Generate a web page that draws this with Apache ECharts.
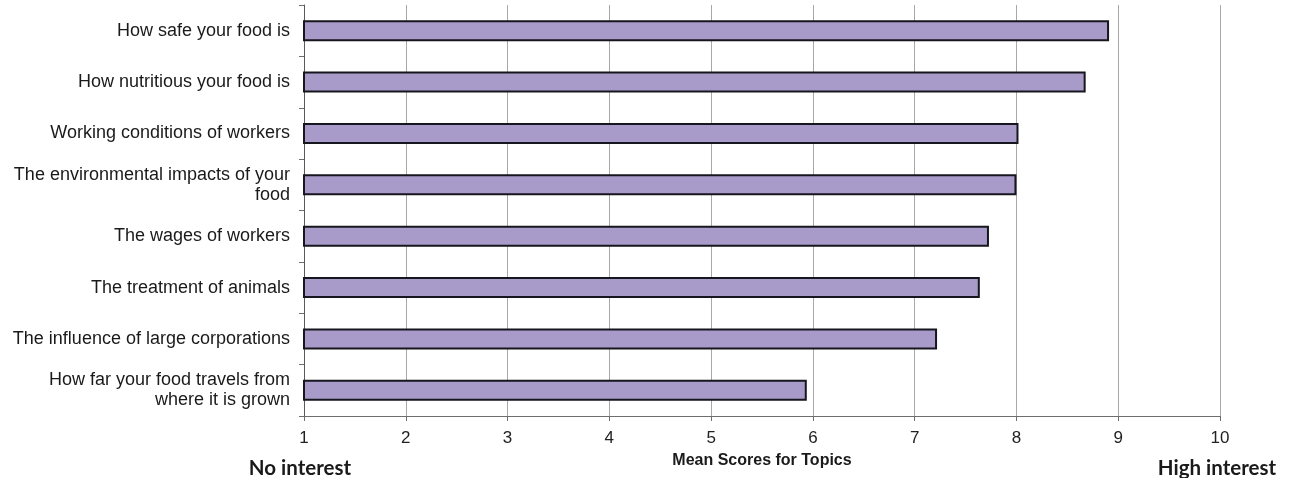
<!DOCTYPE html>
<html>
<head>
<meta charset="utf-8">
<script src="https://cdn.jsdelivr.net/npm/echarts@6/dist/echarts.min.js"></script>
<style>
  html, body { margin: 0; padding: 0; background: #fff; }
  #chart { width: 1289px; height: 478px; }
</style>
</head>
<body>
<div id="chart"></div>
<script>
// Topics, listed top to bottom
const topics = [
  'How safe your food is',
  'How nutritious your food is',
  'Working conditions of workers',
  'The environmental impacts of your\nfood',
  'The wages of workers',
  'The treatment of animals',
  'The influence of large corporations',
  'How far your food travels from\nwhere it is grown'
];
// Mean interest score per topic (1 = no interest, 10 = high interest)
const meanScores = [8.91, 8.68, 8.02, 8.00, 7.73, 7.64, 7.22, 5.94];
const scaleMin = 1;
const scaleMax = 10;
const axisTitle = 'Mean Scores for Topics';
const lowEndLabel = 'No interest';
const highEndLabel = 'High interest';

const chart = echarts.init(document.getElementById('chart'), null, { renderer: 'canvas' });

const labelFont = '"Liberation Sans", Arial, sans-serif';
const boldFont = 'Lato, "Open Sans", sans-serif';

const gridLeft = 304;
const gridRight = 69;

chart.setOption({
  animation: false,
  backgroundColor: '#ffffff',
  grid: { left: gridLeft, right: gridRight, top: 5, bottom: 62, containLabel: false },
  xAxis: {
    type: 'value',
    min: scaleMin,
    max: scaleMax,
    interval: 1,
    name: axisTitle,
    nameLocation: 'middle',
    nameGap: 37,
    nameTextStyle: { fontFamily: labelFont, fontWeight: 'bold', fontSize: 16, color: '#1a1a1a' },
    axisLine: { show: true, lineStyle: { color: '#6e6e6e', width: 1 } },
    axisTick: { show: true, length: 5, lineStyle: { color: '#6e6e6e' } },
    axisLabel: { fontFamily: labelFont, fontSize: 17, color: '#222', margin: 14 },
    splitLine: { show: true, lineStyle: { color: '#a8a8a8', width: 1 } }
  },
  yAxis: {
    type: 'category',
    inverse: true,
    data: topics,
    axisLine: { show: true, lineStyle: { color: '#5a5a5a', width: 1 } },
    axisTick: { show: true, length: 5, lineStyle: { color: '#6e6e6e' } },
    axisLabel: {
      fontFamily: labelFont, fontSize: 18, color: '#1a1a1a', margin: 14,
      align: 'right', lineHeight: 20
    },
    splitLine: { show: false }
  },
  series: [{
    type: 'bar',
    data: meanScores,
    barWidth: 21,
    itemStyle: { color: '#a99bc9', borderColor: '#16161e', borderWidth: 2 },
    clip: true
  }],
  graphic: [
    {
      type: 'text', x: 300, y: 468,
      style: { text: lowEndLabel, font: 'bold 20.5px ' + boldFont, fill: '#1a1a1a', align: 'center', verticalAlign: 'middle' }
    },
    {
      type: 'text', x: 1217, y: 468,
      style: { text: highEndLabel, font: 'bold 20.5px ' + boldFont, fill: '#1a1a1a', align: 'center', verticalAlign: 'middle' }
    }
  ]
});
</script>
</body>
</html>
